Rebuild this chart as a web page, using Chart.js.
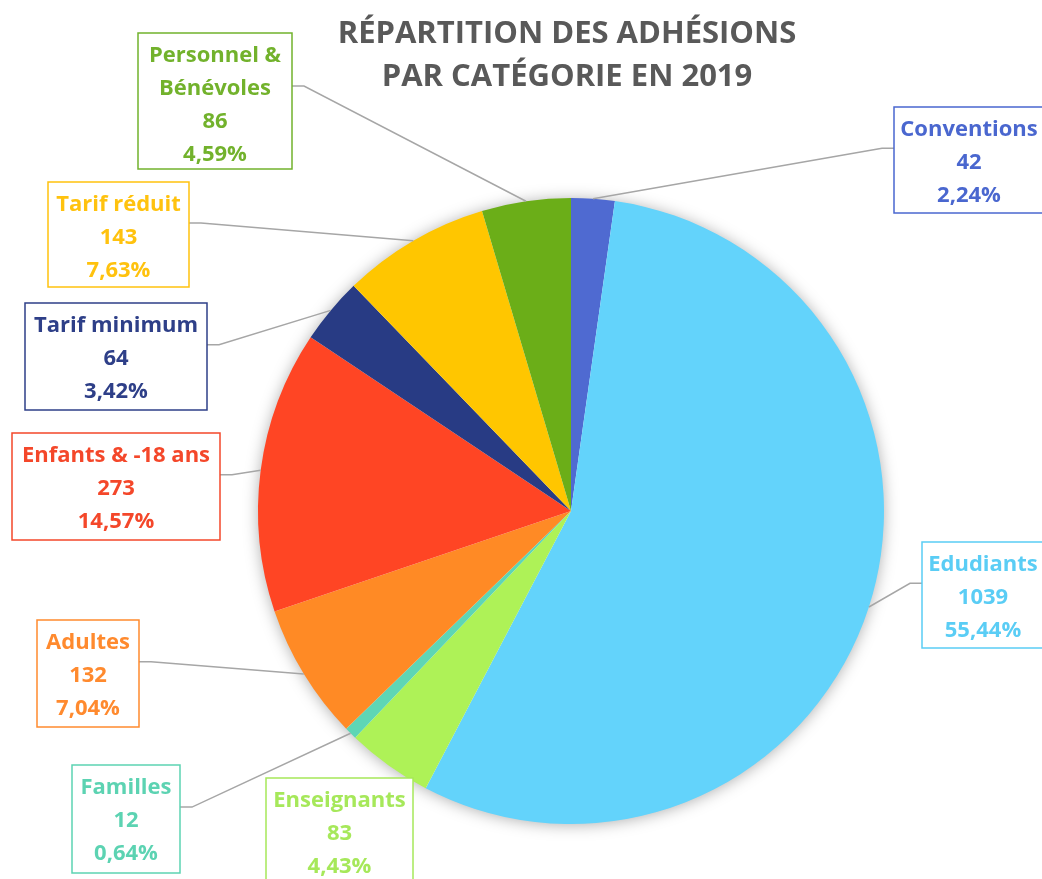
<!DOCTYPE html>
<html>
<head>
<meta charset="utf-8">
<script src="https://cdn.jsdelivr.net/npm/chart.js@4/dist/chart.umd.min.js"></script>
<style>
  html, body { margin: 0; padding: 0; background: #ffffff; }
  #wrap { width: 1042px; height: 879px; }
</style>
</head>
<body>
<div id="wrap"><canvas id="c" width="1042" height="879"></canvas></div>
<script>
// ---- data ----
const categories = ['Conventions', 'Edudiants', 'Enseignants', 'Familles', 'Adultes', 'Enfants & -18 ans', 'Tarif minimum', 'Tarif réduit', 'Personnel & Bénévoles'];
const values = [42, 1039, 83, 12, 132, 273, 64, 143, 86];
const titleLines = ['RÉPARTITION DES ADHÉSIONS', 'PAR CATÉGORIE EN 2019'];

// ---- styles / layout ----
const sliceColors = ['#4F6AD1', '#63D3FB', '#AEF257', '#5ED6B5', '#FF8A25', '#FF4524', '#283B84', '#FFC600', '#6BAE18'];
const textColors  = ['#4A67CF', '#5ACDF5', '#A6E85A', '#5CD3B2', '#FF8A2E', '#F4472A', '#2E3F88', '#FFC20E', '#72B22C'];
const labelNameLines = [['Conventions'], ['Edudiants'], ['Enseignants'], ['Familles'], ['Adultes'], ['Enfants & -18 ans'], ['Tarif minimum'], ['Tarif réduit'], ['Personnel &', 'Bénévoles']];
// box: x, y, w, h, side where the leader attaches ('left', 'right', or 'none')
const labelBoxes = [
  { x: 894, y: 107, w: 150, h: 106, side: 'left' },
  { x: 922, y: 542, w: 122, h: 106, side: 'left' },
  { x: 266, y: 778, w: 147, h: 110, side: 'none' },
  { x: 72,  y: 765, w: 108, h: 108, side: 'right' },
  { x: 37,  y: 620, w: 102, h: 107, side: 'right' },
  { x: 12,  y: 433, w: 208, h: 107, side: 'right' },
  { x: 25,  y: 303, w: 182, h: 107, side: 'right' },
  { x: 48,  y: 182, w: 141, h: 105, side: 'right' },
  { x: 138, y: 33,  w: 154, h: 136, side: 'right' }
];
const FONT = '"Open Sans", Lato, sans-serif';

const total = values.reduce((a, b) => a + b, 0);
const pctText = v => (v / total * 100).toFixed(2).replace('.', ',') + '%';

const shadowPlugin = {
  id: 'pieShadow',
  beforeDatasetsDraw(chart) {
    const arc = chart.getDatasetMeta(0).data[0];
    if (!arc) return;
    const ctx = chart.ctx;
    ctx.save();
    ctx.shadowColor = 'rgba(0,0,0,0.35)';
    ctx.shadowBlur = 16;
    ctx.shadowOffsetX = 0;
    ctx.shadowOffsetY = 1;
    ctx.fillStyle = '#ffffff';
    ctx.beginPath();
    ctx.arc(arc.x, arc.y, arc.outerRadius - 1, 0, Math.PI * 2);
    ctx.fill();
    ctx.restore();
  }
};

const labelPlugin = {
  id: 'boxLabels',
  afterDatasetsDraw(chart) {
    const ctx = chart.ctx;
    const meta = chart.getDatasetMeta(0);
    // title
    ctx.save();
    ctx.fillStyle = '#595959';
    ctx.font = 'bold 31px ' + FONT;
    ctx.textAlign = 'center';
    ctx.textBaseline = 'middle';
    ctx.fillText(titleLines[0], 567, 34);
    ctx.fillText(titleLines[1], 567, 77);
    ctx.restore();

    meta.data.forEach((arc, i) => {
      const b = labelBoxes[i];
      const mid = (arc.startAngle + arc.endAngle) / 2;
      const px = arc.x + Math.cos(mid) * arc.outerRadius;
      const py = arc.y + Math.sin(mid) * arc.outerRadius;
      ctx.save();
      if (b.side !== 'none') {
        const ay = b.y + b.h * 0.39;
        const ax = b.side === 'right' ? b.x + b.w : b.x;
        const ex = b.side === 'right' ? ax + 12 : ax - 12;
        ctx.strokeStyle = '#A6A6A6';
        ctx.lineWidth = 1.5;
        ctx.beginPath();
        ctx.moveTo(px, py);
        ctx.lineTo(ex, ay);
        ctx.lineTo(ax, ay);
        ctx.stroke();
      }
      ctx.fillStyle = '#ffffff';
      ctx.fillRect(b.x, b.y, b.w, b.h);
      ctx.strokeStyle = textColors[i];
      ctx.lineWidth = 1.5;
      ctx.strokeRect(b.x, b.y, b.w, b.h);
      const lines = labelNameLines[i].concat([String(values[i]), pctText(values[i])]);
      ctx.fillStyle = textColors[i];
      ctx.font = 'bold 22px ' + FONT;
      ctx.textAlign = 'center';
      ctx.textBaseline = 'middle';
      lines.forEach((t, k) => {
        ctx.fillText(t, b.x + b.w / 2, b.y + 23 + k * 33);
      });
      ctx.restore();
    });
  }
};

new Chart(document.getElementById('c'), {
  type: 'pie',
  data: {
    labels: categories,
    datasets: [{
      data: values,
      backgroundColor: sliceColors,
      borderWidth: 0
    }]
  },
  options: {
    responsive: false,
    devicePixelRatio: 1,
    animation: false,
    layout: { padding: { left: 258, right: 158, top: 198, bottom: 55 } },
    plugins: {
      legend: { display: false },
      title: { display: false },
      tooltip: { enabled: false }
    }
  },
  plugins: [shadowPlugin, labelPlugin]
});
</script>
</body>
</html>
